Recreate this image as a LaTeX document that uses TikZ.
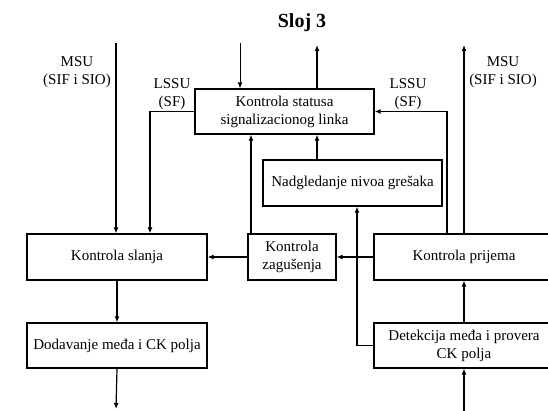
\documentclass[tikz,border=0pt]{standalone}
\usepackage{fontspec}
\setmainfont{Liberation Serif}
\usetikzlibrary{arrows.meta}
\begin{document}
\begin{tikzpicture}[x=1pt,y=-1pt,
  box/.style={draw,line width=1.2pt,minimum height=46pt,inner sep=2pt,align=center,font=\fontsize{15}{18}\selectfont},
  lbl/.style={align=center,inner sep=0pt,font=\fontsize{15}{18}\selectfont},
  arr/.style={line width=1.2pt,-{Latex[length=6pt,width=5pt]}},
  ln/.style={line width=1.2pt}]
\useasboundingbox (0,0) rectangle (548,411);
\clip (0,0) rectangle (548,411);
% boxes
\node[box,minimum width=179pt,minimum height=45pt] (status) at (284.5,111.5) {Kontrola statusa\\signalizacionog linka};
\node[box,minimum width=179pt] (nadg) at (352.5,183) {Nadgledanje nivoa grešaka};
\node[box,minimum width=88pt] (zag) at (292,257) {Kontrola\\zagušenja};
\node[box,minimum width=180pt] (slanja) at (117,257) {Kontrola slanja};
\node[box,minimum width=180pt,minimum height=45pt] (dodav) at (117,345.5) {Dodavanje međa i CK polja};
\node[box,minimum width=180pt] (prijema) at (464,257) {Kontrola prijema};
\node[box,minimum width=180pt,minimum height=45pt] (detek) at (464,345.5) {Detekcija međa i provera\\CK polja};
% labels
\node[lbl,font=\bfseries\fontsize{20}{22}\selectfont] (title) at (302,23) {Sloj 3};
\node[lbl] (msul) at (77,72) {MSU\\(SIF i SIO)};
\node[lbl] (lssul) at (172,94.5) {LSSU\\(SF)};
\node[lbl] (lssur) at (408,94.5) {LSSU\\(SF)};
\node[lbl] (msur) at (503,72) {MSU\\(SIF i SIO)};
% free ends
\coordinate (msuin) at (116,43);
\coordinate (topin) at (240,43);
\coordinate (out3) at (317,45);
\coordinate (msuout) at (464,45);
\coordinate (botout) at (116,409);
\coordinate (botin) at (464,411);
% connectors
\draw[arr] (msuin) -- (msuin |- slanja.north);
\draw[arr] (status.west) -| ([xshift=33pt]slanja.north);
\draw[line width=0.9pt,-{Latex[length=6pt,width=5pt]}] (topin) -- (topin |- status.north);
\draw[arr] (out3 |- status.north) -- (out3);
\draw[arr] (out3 |- nadg.north) -- (out3 |- status.south);
\draw[arr] ([xshift=-41pt]zag.north) -- ([xshift=-41pt]zag.north |- status.south);
\draw[arr] (zag.west) -- (slanja.east);
\draw[arr] (prijema.west) -- (zag.east);
\draw[arr] (prijema.north) -- (msuout);
\draw[arr] ([xshift=-17pt]prijema.north) |- (status.east);
\draw[arr] (detek.north) -- (prijema.south);
\draw[arr] (botin) -- (detek.south);
\draw[arr] (slanja.south) -- (dodav.north);
\draw[arr] (dodav.south) -- (botout);
\draw[arr] (detek.west) -| ([xshift=4.5pt]nadg.south);
\end{tikzpicture}
\end{document}
